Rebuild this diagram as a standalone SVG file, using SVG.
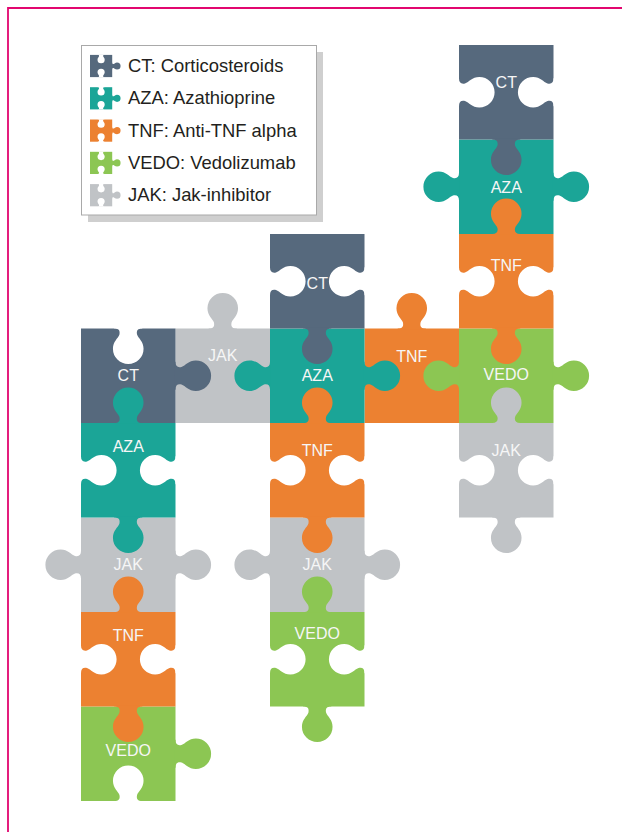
<svg xmlns="http://www.w3.org/2000/svg" xmlns:xlink="http://www.w3.org/1999/xlink" width="622" height="832" viewBox="0 0 622 832">
  <style>
    .ct{fill:#56697d}
    .aza{fill:#1ba597}
    .tnf{fill:#ec8131}
    .vedo{fill:#8cc653}
    .jak{fill:#c0c3c6}
    .blank{fill:#ffffff}
    .lbl{font-family:"Liberation Sans",Arial,sans-serif;font-size:16px;fill:#f6f6f6;text-anchor:middle}
    .leg{font-family:"Liberation Sans",Arial,sans-serif;font-size:18.4px;fill:#231f20}
  </style>
  <defs>
    <!-- puzzle tab on an edge along y=0, centred on x=0, pointing toward +y -->
    <path id="tab" d="M-14 -0.8 L-14 0 C-9.5 0 -8 2 -8.8 6 C-10.2 10 -15.3 13 -15.3 20.3 A15.3 15.3 0 0 0 15.3 20.3 C15.3 13 10.2 10 8.8 6 C8 2 9.5 0 14 0 L14 -0.8 Z"/>
    <!-- small legend piece: blanks top and bottom, tab on the right -->
    <g id="legend-piece">
      <rect width="94.5" height="94.5"/>
      <use xlink:href="#tab" transform="translate(94.5,47.25) rotate(-90)"/>
      <use xlink:href="#tab" class="blank" transform="translate(47.25,0)"/>
      <use xlink:href="#tab" class="blank" transform="translate(47.25,94.5) rotate(180)"/>
    </g>
  </defs>

  <rect width="622" height="832" fill="#ffffff"/>
  <path d="M8 840 V8 H630" fill="none" stroke="#e2066f" stroke-width="1.8"/>

  <!-- legend -->
  <g id="legend">
    <rect x="88" y="52" width="235" height="170" fill="#cfcfcf"/>
    <rect x="81.5" y="45.5" width="235" height="169.5" fill="#ffffff" stroke="#a9a9a9" stroke-width="1"/>
    <use xlink:href="#legend-piece" class="ct" transform="translate(90,54.9) scale(0.235)"/>
    <use xlink:href="#legend-piece" class="aza" transform="translate(90,87.2) scale(0.235)"/>
    <use xlink:href="#legend-piece" class="tnf" transform="translate(90,119.5) scale(0.235)"/>
    <use xlink:href="#legend-piece" class="vedo" transform="translate(90,151.8) scale(0.235)"/>
    <use xlink:href="#legend-piece" class="jak" transform="translate(90,184.1) scale(0.235)"/>
    <text class="leg" x="128" y="72">CT: Corticosteroids</text>
    <text class="leg" x="128" y="104.3">AZA: Azathioprine</text>
    <text class="leg" x="128" y="136.6">TNF: Anti-TNF alpha</text>
    <text class="leg" x="128" y="168.9">VEDO: Vedolizumab</text>
    <text class="leg" x="128" y="201.2">JAK: Jak-inhibitor</text>
  </g>

  <g id="connectors"/>

  <!-- pieces, ordered so every tab lies over the piece it locks into -->
  <g id="jak-b" class="jak">
    <rect x="175.5" y="328.5" width="94.5" height="94.5"/>
    <use xlink:href="#tab" transform="translate(222.75,328.5) rotate(180)"/>
    <text class="lbl" x="222.75" y="360.7">JAK</text>
  </g>

  <g id="jak-a" class="jak">
    <rect x="81" y="517.5" width="94.5" height="94.5"/>
    <use xlink:href="#tab" transform="translate(81,564.75) rotate(90)"/>
    <use xlink:href="#tab" transform="translate(175.5,564.75) rotate(-90)"/>
    <text class="lbl" x="128.25" y="569.7">JAK</text>
  </g>

  <g id="vedo-a" class="vedo">
    <rect x="81" y="706.5" width="94.5" height="94.5"/>
    <use xlink:href="#tab" transform="translate(175.5,753.75) rotate(-90)"/>
    <use xlink:href="#tab" class="blank" transform="translate(128.25,801) rotate(180)"/>
    <text class="lbl" x="128.25" y="755.7">VEDO</text>
  </g>

  <g id="ct-a" class="ct">
    <rect x="81" y="328.5" width="94.5" height="94.5"/>
    <use xlink:href="#tab" class="blank" transform="translate(128.25,328.5)"/>
    <use xlink:href="#tab" transform="translate(175.5,375.75) rotate(-90)"/>
    <text class="lbl" x="128.25" y="380.7">CT</text>
  </g>

  <g id="aza-a" class="aza">
    <rect x="81" y="423" width="94.5" height="94.5"/>
    <use xlink:href="#tab" transform="translate(128.25,423) rotate(180)"/>
    <use xlink:href="#tab" class="blank" transform="translate(81,470.25) rotate(-90)"/>
    <use xlink:href="#tab" class="blank" transform="translate(175.5,470.25) rotate(90)"/>
    <use xlink:href="#tab" transform="translate(128.25,517.5)"/>
    <text class="lbl" x="128.25" y="451.7">AZA</text>
  </g>

  <g id="tnf-a" class="tnf">
    <rect x="81" y="612" width="94.5" height="94.5"/>
    <use xlink:href="#tab" transform="translate(128.25,612) rotate(180)"/>
    <use xlink:href="#tab" class="blank" transform="translate(81,659.25) rotate(-90)"/>
    <use xlink:href="#tab" class="blank" transform="translate(175.5,659.25) rotate(90)"/>
    <use xlink:href="#tab" transform="translate(128.25,706.5)"/>
    <text class="lbl" x="128.25" y="640.7">TNF</text>
  </g>

  <g id="tnf-d" class="tnf">
    <rect x="364.5" y="328.5" width="94.5" height="94.5"/>
    <use xlink:href="#tab" transform="translate(411.75,328.5) rotate(180)"/>
    <text class="lbl" x="411.75" y="361.7">TNF</text>
  </g>

  <g id="jak-c" class="jak">
    <rect x="270" y="517.5" width="94.5" height="94.5"/>
    <use xlink:href="#tab" transform="translate(270,564.75) rotate(90)"/>
    <use xlink:href="#tab" transform="translate(364.5,564.75) rotate(-90)"/>
    <text class="lbl" x="317.25" y="569.7">JAK</text>
  </g>

  <g id="aza-c" class="aza">
    <rect x="270" y="328.5" width="94.5" height="94.5"/>
    <use xlink:href="#tab" transform="translate(270,375.75) rotate(90)"/>
    <use xlink:href="#tab" transform="translate(364.5,375.75) rotate(-90)"/>
    <text class="lbl" x="317.25" y="380.7">AZA</text>
  </g>

  <g id="ct-c" class="ct">
    <rect x="270" y="234" width="94.5" height="94.5"/>
    <use xlink:href="#tab" class="blank" transform="translate(270,281.25) rotate(-90)"/>
    <use xlink:href="#tab" class="blank" transform="translate(364.5,281.25) rotate(90)"/>
    <use xlink:href="#tab" transform="translate(317.25,328.5)"/>
    <text class="lbl" x="317.25" y="288.7">CT</text>
  </g>

  <g id="tnf-c" class="tnf">
    <rect x="270" y="423" width="94.5" height="94.5"/>
    <use xlink:href="#tab" transform="translate(317.25,423) rotate(180)"/>
    <use xlink:href="#tab" class="blank" transform="translate(270,470.25) rotate(-90)"/>
    <use xlink:href="#tab" class="blank" transform="translate(364.5,470.25) rotate(90)"/>
    <use xlink:href="#tab" transform="translate(317.25,517.5)"/>
    <text class="lbl" x="317.25" y="455.7">TNF</text>
  </g>

  <g id="vedo-c" class="vedo">
    <rect x="270" y="612" width="94.5" height="94.5"/>
    <use xlink:href="#tab" transform="translate(317.25,612) rotate(180)"/>
    <use xlink:href="#tab" class="blank" transform="translate(270,659.25) rotate(-90)"/>
    <use xlink:href="#tab" class="blank" transform="translate(364.5,659.25) rotate(90)"/>
    <use xlink:href="#tab" transform="translate(317.25,706.5)"/>
    <text class="lbl" x="317.25" y="638.7">VEDO</text>
  </g>

  <g id="vedo-e" class="vedo">
    <rect x="459" y="328.5" width="94.5" height="94.5"/>
    <use xlink:href="#tab" transform="translate(459,375.75) rotate(90)"/>
    <use xlink:href="#tab" transform="translate(553.5,375.75) rotate(-90)"/>
    <text class="lbl" x="506.25" y="379.7">VEDO</text>
  </g>

  <g id="jak-e" class="jak">
    <rect x="459" y="423" width="94.5" height="94.5"/>
    <use xlink:href="#tab" transform="translate(506.25,423) rotate(180)"/>
    <use xlink:href="#tab" class="blank" transform="translate(459,470.25) rotate(-90)"/>
    <use xlink:href="#tab" class="blank" transform="translate(553.5,470.25) rotate(90)"/>
    <use xlink:href="#tab" transform="translate(506.25,517.5)"/>
    <text class="lbl" x="506.25" y="455.7">JAK</text>
  </g>

  <g id="aza-e" class="aza">
    <rect x="459" y="139.5" width="94.5" height="94.5"/>
    <use xlink:href="#tab" transform="translate(459,186.75) rotate(90)"/>
    <use xlink:href="#tab" transform="translate(553.5,186.75) rotate(-90)"/>
    <text class="lbl" x="506.25" y="192.7">AZA</text>
  </g>

  <g id="tnf-e" class="tnf">
    <rect x="459" y="234" width="94.5" height="94.5"/>
    <use xlink:href="#tab" transform="translate(506.25,234) rotate(180)"/>
    <use xlink:href="#tab" class="blank" transform="translate(459,281.25) rotate(-90)"/>
    <use xlink:href="#tab" class="blank" transform="translate(553.5,281.25) rotate(90)"/>
    <use xlink:href="#tab" transform="translate(506.25,328.5)"/>
    <text class="lbl" x="506.25" y="270.7">TNF</text>
  </g>

  <g id="ct-e" class="ct">
    <rect x="459" y="45" width="94.5" height="94.5"/>
    <use xlink:href="#tab" class="blank" transform="translate(459,92.25) rotate(-90)"/>
    <use xlink:href="#tab" class="blank" transform="translate(553.5,92.25) rotate(90)"/>
    <use xlink:href="#tab" transform="translate(506.25,139.5)"/>
    <text class="lbl" x="506.25" y="87.7">CT</text>
  </g>
</svg>
